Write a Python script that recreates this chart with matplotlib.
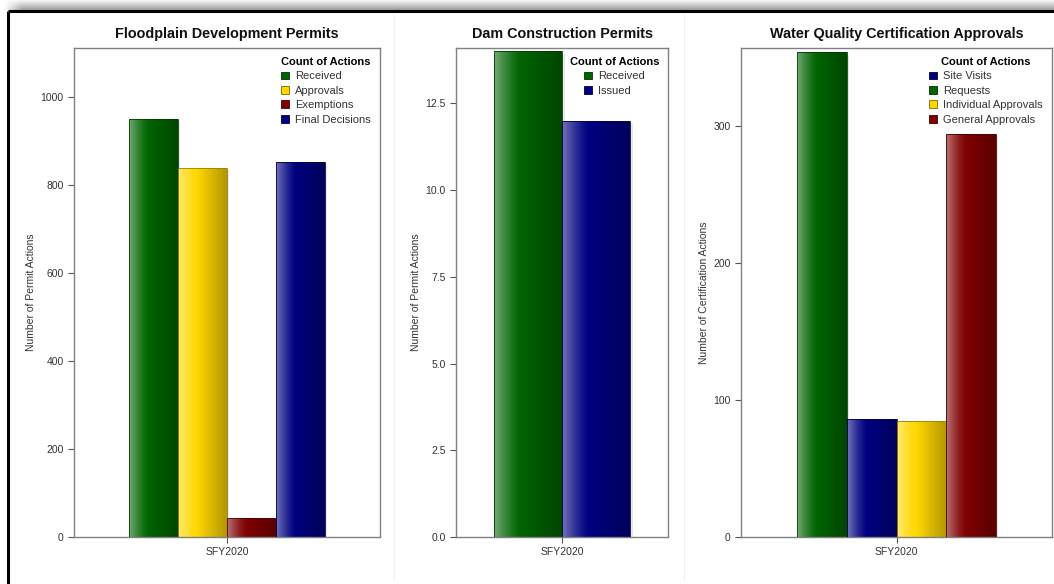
import numpy as np
import matplotlib
matplotlib.use("Agg")
import matplotlib.pyplot as plt
from matplotlib.patches import Rectangle, Patch
from matplotlib.colors import to_rgb

plt.rcParams['font.family'] = ['Liberation Sans', 'DejaVu Sans']

period = "SFY2020"

# Floodplain development permits
flood_labels = ["Received", "Approvals", "Exemptions", "Final Decisions"]
flood_values = [950, 839, 43, 852]
flood_colors = ["#006400", "#ffd700", "#800000", "#000080"]

# Dam construction permits
dam_labels = ["Received", "Issued"]
dam_values = [14, 12]
dam_colors = ["#006400", "#000080"]

# Water quality certification approvals (bar order differs from legend order)
wq_bar_labels = ["Requests", "Site Visits", "Individual Approvals", "General Approvals"]
wq_values = [354, 86, 85, 294]
wq_bar_colors = ["#006400", "#000080", "#ffd700", "#800000"]
wq_legend_labels = ["Site Visits", "Requests", "Individual Approvals", "General Approvals"]
wq_legend_colors = ["#000080", "#006400", "#ffd700", "#800000"]

W, H = 1054, 584
fig = plt.figure(figsize=(W / 100, H / 100), dpi=100)


def px_axes(x0, y0, x1, y1):
    return fig.add_axes([x0 / W, 1 - y1 / H, (x1 - x0) / W, (y1 - y0) / H])


# shadow strip and frame lines
bg = fig.add_axes([0, 0, 1, 1], zorder=-5)
bg.set_xlim(0, W)
bg.set_ylim(H, 0)
bg.axis("off")
shade = np.linspace(0.97, 0.62, 50)[:, None] * np.ones((1, 400))
fade = np.clip(np.linspace(0, 1, 400) * 60, 0, 1)
shade = 1 - (1 - shade) * fade[None, :]
bg.imshow(shade, cmap="gray", vmin=0, vmax=1, extent=[3, W, 10, 0], aspect="auto")
bg.plot([8, W], [11, 11], color="black", lw=2.2, solid_capstyle="butt")
bg.plot([8, 8], [11, H], color="black", lw=2.2, solid_capstyle="butt")
for xv in (394, 684):
    bg.plot([xv, xv], [14, 580], color="#f2f2f2", lw=0.8)


def shaded_colors(base, n=80):
    c = np.array(to_rgb(base))
    t = np.linspace(0, 1, n)
    rows = []
    for ti in t:
        if ti < 0.4:
            a = 0.45 * (1 - ti / 0.4) ** 1.3
            rows.append(c * (1 - a) + a)
        else:
            rows.append(c * (1 - 0.3 * (ti - 0.4) / 0.6))
    return np.array(rows)[None, :, :]


def draw_panel(box, title, ylabel, labels, values, colors, ymax, yticks, ytfmt,
               leg_labels, leg_colors):
    ax = px_axes(*box)
    n = len(values)
    group = 0.64
    width = group / n
    xs = -group / 2 + width * (np.arange(n) + 0.5)
    for x, v, col in zip(xs, values, colors):
        x0 = x - width / 2
        img = shaded_colors(col)
        im = ax.imshow(np.repeat(img, 2, axis=0), extent=[x0, x0 + width, 0, v],
                       aspect="auto", zorder=2, interpolation="bilinear")
        edge = np.array(to_rgb(col)) * 0.6
        rect = Rectangle((x0, 0), width, v, facecolor="none", edgecolor=edge,
                         lw=0.6, zorder=3)
        ax.add_patch(rect)
        im.set_clip_path(rect)
        # soft shadow on the right side
        ax.add_patch(Rectangle((x0 + width, 0), width * 0.04, v * 0.995,
                               facecolor="#e6e6e6", edgecolor="none", zorder=1))
    ax.set_xlim(-0.5, 0.5)
    ax.set_ylim(0, ymax)
    ax.set_xticks([0])
    ax.set_xticklabels([period])
    ax.set_yticks(yticks)
    ax.set_yticklabels([ytfmt.format(t) for t in yticks])
    ax.tick_params(axis="both", labelsize=7.5, colors="#555555", labelcolor="#333333",
                   length=4, width=0.8, direction="out")
    for s in ax.spines.values():
        s.set_color("#808080")
        s.set_linewidth(1.0)
    ax.set_title(title, fontsize=10.4, fontweight="bold", color="#111111", pad=7)
    ax.set_ylabel(ylabel, fontsize=7.5, color="#333333", labelpad=3)
    handles = [Patch(facecolor=c, edgecolor=np.array(to_rgb(c)) * 0.5, lw=0.6)
               for c in leg_colors]
    leg = ax.legend(handles, leg_labels, loc="upper right", frameon=False,
                    fontsize=8, title="Count of Actions",
                    title_fontproperties={"weight": "bold", "size": 8},
                    handlelength=0.7, handleheight=0.7, handletextpad=0.6,
                    labelspacing=0.4, borderaxespad=0.5, borderpad=0.3)
    for t in leg.get_texts():
        t.set_color("#333333")
    return ax


draw_panel((74, 48, 380, 537), "Floodplain Development Permits",
           "Number of Permit Actions", flood_labels, flood_values, flood_colors,
           1111, [0, 200, 400, 600, 800, 1000], "{:d}", flood_labels, flood_colors)

draw_panel((456, 48, 668, 537), "Dam Construction Permits",
           "Number of Permit Actions", dam_labels, dam_values, dam_colors,
           14.1, [0, 2.5, 5.0, 7.5, 10.0, 12.5], "{:.1f}", dam_labels, dam_colors)

draw_panel((741, 48, 1052, 537), "Water Quality Certification Approvals",
           "Number of Certification Actions", wq_bar_labels, wq_values, wq_bar_colors,
           357, [0, 100, 200, 300], "{:d}", wq_legend_labels, wq_legend_colors)

fig.savefig("out.png", dpi=100)
